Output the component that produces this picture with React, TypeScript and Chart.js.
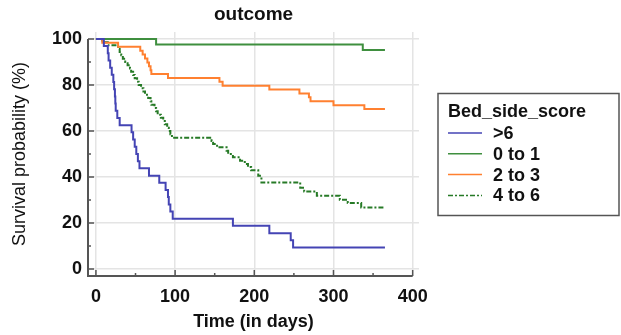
import React, { useEffect, useRef } from 'react';
import { Chart, registerables } from 'chart.js';

Chart.register(...registerables);

// ---- data ----
const chartTitle = 'outcome';
const xTitle = 'Time (in days)';
const yTitle = 'Survival probability (%)';
const legendTitle = 'Bed_side_score';
const seriesNames = ['>6', '0 to 1', '2 to 3', '4 to 6'];

const timesGt6 = [0, 10, 15, 16, 18, 20, 22, 23, 24, 24.5, 25, 27, 30, 45, 47, 49, 51, 53, 55, 67, 80, 88, 91, 92, 94, 97, 173, 219, 246, 249, 365];
const survGt6 = [100, 96.9, 93.8, 90.6, 87.5, 84.4, 81.3, 78.1, 75, 71.9, 68.8, 65.6, 62.5, 59.4, 56.3, 53.1, 50, 46.9, 43.8, 40.6, 37.5, 34.4, 31.3, 28.1, 25, 21.9, 18.8, 15.6, 12.5, 9.4, 9.4];

const times0to1 = [0, 76, 337, 365];
const surv0to1 = [100, 97.6, 95.2, 95.2];

const times2to3 = [0, 8, 28, 56, 59, 62, 65, 67, 69, 70, 91, 156, 160, 219, 257, 269, 271, 300, 339, 365];
const surv2to3 = [100, 98.3, 96.6, 94.9, 93.2, 91.5, 89.8, 88.1, 86.4, 84.7, 83.0, 81.4, 79.7, 78.0, 76.3, 74.6, 72.9, 71.2, 69.5, 69.5];

const times4to6 = [0, 8, 15, 28, 30, 32, 34, 37, 40, 43, 44.5, 47, 49, 52, 54, 57, 60, 62, 66, 69, 70, 74, 76, 78, 82, 85, 87, 90, 92, 94, 96, 146, 148, 153, 165, 167, 173, 182, 188, 192, 196, 205, 209, 258, 263, 279, 308, 318, 335, 365];
const surv4to6 = [100, 98.6, 97.2, 95.7, 94.3, 92.9, 91.4, 90, 88.6, 87.1, 85.7, 84.3, 82.9, 81.4, 80, 78.6, 77.1, 75.7, 74.3, 72.9, 71.4, 70, 68.6, 67.1, 65.7, 64.3, 62.9, 61.4, 60, 58.6, 57.1, 55.7, 54.3, 52.9, 51.4, 50, 48.6, 47.1, 45.7, 44.3, 42.9, 40.5, 37.6, 35.3, 33.7, 31.9, 30.1, 28.7, 26.8, 26.8];

const xTicks = [0, 100, 200, 300, 400];
const yTicks = [0, 20, 40, 60, 80, 100];
const xMinorTicks = [50, 150, 250, 350];
const yMinorTicks = [10, 30, 50, 70, 90];

const FAMILY = '"Liberation Sans", Arial, sans-serif';
const AXIS_COLOR = '#555555';

const toPoints = (xs: number[], ys: number[]) => xs.map((x, i) => ({ x, y: ys[i] }));

const axesPlugin = {
  id: 'kmAxes',
  beforeDatasetsDraw(chart: any) {
    const { ctx, scales } = chart;
    const xs = scales.x;
    const ys = scales.y;
    const x0 = xs.getPixelForValue(xs.min);
    const y0 = ys.getPixelForValue(ys.min);
    ctx.save();
    ctx.strokeStyle = AXIS_COLOR;
    ctx.lineWidth = 2;
    ctx.beginPath();
    ctx.moveTo(x0, ys.getPixelForValue(100));
    ctx.lineTo(x0, y0);
    ctx.lineTo(xs.getPixelForValue(400), y0);
    ctx.stroke();
    ctx.lineWidth = 1.5;
    ctx.beginPath();
    xTicks.forEach((v) => {
      const px = xs.getPixelForValue(v);
      ctx.moveTo(px, y0);
      ctx.lineTo(px, y0 - 6);
    });
    xMinorTicks.forEach((v) => {
      const px = xs.getPixelForValue(v);
      ctx.moveTo(px, y0);
      ctx.lineTo(px, y0 - 3);
    });
    yTicks.forEach((v) => {
      const py = ys.getPixelForValue(v);
      ctx.moveTo(x0, py);
      ctx.lineTo(x0 + 6, py);
    });
    yMinorTicks.forEach((v) => {
      const py = ys.getPixelForValue(v);
      ctx.moveTo(x0, py);
      ctx.lineTo(x0 + 3, py);
    });
    ctx.stroke();
    ctx.restore();
  },
};

const legendPlugin = {
  id: 'boxLegend',
  afterDraw(chart: any) {
    const { ctx, chartArea } = chart;
    const left = chartArea.right + 19;
    const top = 93.5;
    const w = 181;
    const h = 122;
    ctx.save();
    ctx.strokeStyle = AXIS_COLOR;
    ctx.lineWidth = 1.5;
    ctx.strokeRect(left, top, w, h);
    ctx.fillStyle = '#111111';
    ctx.textBaseline = 'middle';
    ctx.textAlign = 'left';
    ctx.font = `bold 18px ${FAMILY}`;
    ctx.fillText(legendTitle, left + 10, top + 19);
    chart.data.datasets.forEach((ds: any, i: number) => {
      const cy = top + 39.5 + i * 20.8;
      ctx.strokeStyle = ds.borderColor;
      ctx.lineWidth = 1.5;
      ctx.setLineDash(ds.borderDash || []);
      ctx.beginPath();
      ctx.moveTo(left + 10, cy);
      ctx.lineTo(left + 44, cy);
      ctx.stroke();
      ctx.setLineDash([]);
      ctx.fillText(ds.label, left + 55, cy + 1);
    });
    ctx.restore();
  },
};

export default function App() {
  const ref = useRef<HTMLCanvasElement | null>(null);

  useEffect(() => {
    if (!ref.current) return;
    const chart = new Chart(ref.current, {
      type: 'line',
      data: {
        datasets: [
          { label: seriesNames[0], data: toPoints(timesGt6, survGt6), borderColor: '#4444b4', borderWidth: 2 },
          { label: seriesNames[1], data: toPoints(times0to1, surv0to1), borderColor: '#3f8f3f', borderWidth: 2 },
          { label: seriesNames[2], data: toPoints(times2to3, surv2to3), borderColor: '#ff8030', borderWidth: 2 },
          { label: seriesNames[3], data: toPoints(times4to6, surv4to6), borderColor: '#267a26', borderWidth: 2, borderDash: [5, 2, 2, 2] },
        ] as any,
      },
      options: {
        responsive: false,
        animation: false,
        devicePixelRatio: 1,
        layout: { padding: { left: 0, right: 202, top: 0, bottom: 0 } },
        elements: {
          point: { radius: 0, hoverRadius: 0 },
          line: { stepped: true, tension: 0, fill: false } as any,
        },
        plugins: {
          legend: { display: false },
          tooltip: { enabled: false },
          title: {
            display: true,
            text: chartTitle,
            fullSize: false,
            color: '#111111',
            font: { family: FAMILY, size: 19, weight: 'bold' },
            padding: { top: 3.6, bottom: 5.6 },
          },
        },
        scales: {
          x: {
            type: 'linear',
            min: -10,
            max: 408,
            afterBuildTicks: (s: any) => { s.ticks = xTicks.map((v) => ({ value: v })); },
            afterFit: (s: any) => { s.height = 59; },
            grid: { color: '#e4e4e4', lineWidth: 1.5, drawTicks: false },
            border: { display: false },
            ticks: {
              autoSkip: false,
              maxRotation: 0,
              padding: 10,
              color: '#111111',
              font: { family: FAMILY, size: 18, weight: 'bold' },
            },
            title: {
              display: true,
              text: xTitle,
              color: '#111111',
              font: { family: FAMILY, size: 18, weight: 'bold' },
              padding: { top: 0, bottom: 2.2 },
            },
          },
          y: {
            type: 'linear',
            min: -3,
            max: 103,
            afterBuildTicks: (s: any) => { s.ticks = yTicks.map((v) => ({ value: v })); },
            afterFit: (s: any) => { s.width = 88; },
            grid: { color: '#e4e4e4', lineWidth: 1.5, drawTicks: false },
            border: { display: false },
            ticks: {
              autoSkip: false,
              padding: 6,
              color: '#111111',
              font: { family: FAMILY, size: 18, weight: 'bold' },
            },
            title: {
              display: true,
              text: yTitle,
              color: '#111111',
              font: { family: FAMILY, size: 18, weight: 'normal' },
              padding: { top: 9.2, bottom: 0 },
            },
          },
        },
      } as any,
      plugins: [axesPlugin, legendPlugin],
    });
    return () => chart.destroy();
  }, []);

  return (
    <div style={{ position: 'fixed', left: 0, top: 0, width: 621, height: 335, background: '#ffffff' }}>
      <canvas ref={ref} width={621} height={335} style={{ display: 'block' }} />
    </div>
  );
}
